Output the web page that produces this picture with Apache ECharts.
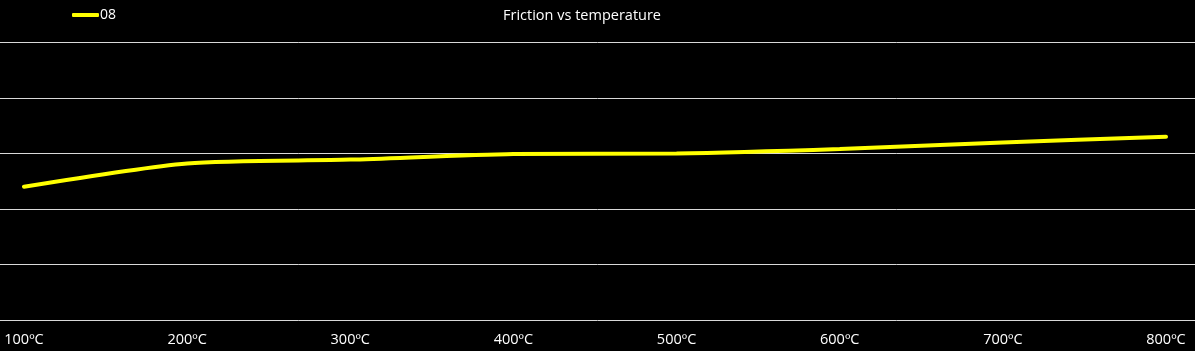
<!DOCTYPE html>
<html>
<head>
<meta charset="utf-8">
<script src="https://cdn.jsdelivr.net/npm/echarts@6/dist/echarts.min.js"></script>
<style>
html,body{margin:0;padding:0;background:#000;}
#c{width:1195px;height:351px;}
</style>
</head>
<body>
<div id="c"></div>
<script>
var categories = ['100ºC','200ºC','300ºC','400ºC','500ºC','600ºC','700ºC','800ºC'];
var series08 = [0.240, 0.282, 0.289, 0.299, 0.300, 0.308, 0.320, 0.330];
var seriesName = '08';
var titleText = 'Friction vs temperature';

var chart = echarts.init(document.getElementById('c'));
chart.setOption({
  backgroundColor: '#000000',
  animation: false,
  title: {
    text: titleText,
    left: 498, top: 3,
    textStyle: {color: '#ffffff', fontSize: 14.5, fontWeight: 'normal', fontFamily: 'Open Sans'}
  },
  legend: {
    left: 72, top: 8,
    itemWidth: 27, itemHeight: 4, itemGap: 10,
    padding: 0,
    textStyle: {color: '#ffffff', fontSize: 14, fontFamily: 'Open Sans', padding: [0,0,0,-4]},
    data: [{name: seriesName, icon: 'roundRect'}]
  },
  grid: [
    {left: 24, right: 29, top: 42.5, bottom: 31, containLabel: false},
    {left: 0, right: 0, top: 42.5, bottom: 31, containLabel: false}
  ],
  xAxis: [{
    type: 'category',
    gridIndex: 0,
    data: categories,
    boundaryGap: false,
    axisLine: {show: false},
    axisTick: {show: false},
    axisLabel: {color: '#ffffff', fontSize: 14.5, fontFamily: 'Open Sans', margin: 12}
  }, {
    type: 'value',
    gridIndex: 1,
    min: 0, max: 1,
    show: false
  }],
  yAxis: [{
    type: 'value',
    gridIndex: 0,
    min: 0, max: 0.5, interval: 0.1,
    axisLine: {show: false},
    axisTick: {show: false},
    axisLabel: {show: false},
    splitLine: {show: false}
  }, {
    type: 'value',
    gridIndex: 1,
    min: 0, max: 0.5, interval: 0.1,
    axisLine: {show: false},
    axisTick: {show: false},
    axisLabel: {show: false},
    splitLine: {lineStyle: {color: '#d9d9d9', width: 1}}
  }],
  series: [{
    name: seriesName,
    type: 'line',
    xAxisIndex: 0,
    yAxisIndex: 0,
    data: series08,
    smooth: 0.25,
    symbol: 'none',
    z: 5,
    itemStyle: {color: '#ffff00'},
    lineStyle: {color: '#ffff00', width: 4, cap: 'round'}
  }]
});
</script>
</body>
</html>
